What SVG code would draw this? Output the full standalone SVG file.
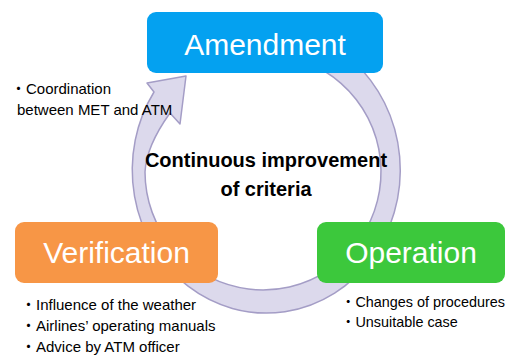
<svg xmlns="http://www.w3.org/2000/svg" width="508" height="360" viewBox="0 0 508 360">
<style>
.box{stroke:none}
.title{font-family:"Liberation Sans",Arial,sans-serif;font-size:30px;fill:#ffffff;text-anchor:middle}
.center{font-family:"Liberation Sans",Arial,sans-serif;font-size:20px;font-weight:bold;fill:#000000;text-anchor:middle}
.note{font-family:"Liberation Sans",Arial,"Noto Sans CJK JP",sans-serif;font-size:15px;fill:#000000}
.note-r{font-size:14.4px}
.ring{fill:#DCD9EC;stroke:#A49DC6;stroke-width:1.5;stroke-linejoin:round}
</style>
<rect width="508" height="360" fill="#ffffff"/>
<g id="connectors">
<path class="ring" d="M 354,62 A 134 143 0 1 1 154,92 L 147,83 L 186,76 L 180,124 L 170,113 C 160,127 146,150 145,172 A 118 118 0 1 0 306,62 Z"/>
</g>
<g id="node-amendment">
<rect class="box" x="147" y="12" width="236" height="61" rx="9" fill="#04A1F0"/>
<text class="title" x="265" y="55">Amendment</text>
</g>
<g id="node-verification">
<rect class="box" x="15" y="222" width="203" height="61" rx="9" fill="#F79646"/>
<text class="title" x="116.5" y="263">Verification</text>
</g>
<g id="node-operation">
<rect class="box" x="317" y="222" width="188" height="61" rx="9" fill="#3CC83C"/>
<text class="title" x="411" y="263">Operation</text>
</g>
<g id="center-label">
<text class="center" x="266" y="167">Continuous improvement</text>
<text class="center" x="266" y="196">of criteria</text>
</g>
<g id="notes-amendment">
<text class="note" x="11" y="94">・Coordination</text>
<text class="note" x="17" y="115">between MET and ATM</text>
</g>
<g id="notes-verification">
<text class="note" x="21" y="310">・Influence of the weather</text>
<text class="note" x="21" y="331">・Airlines’ operating manuals</text>
<text class="note" x="21" y="352">・Advice by ATM officer</text>
</g>
<g id="notes-operation">
<text class="note note-r" x="341" y="307">・Changes of procedures</text>
<text class="note note-r" x="341" y="327">・Unsuitable case</text>
</g>
</svg>
